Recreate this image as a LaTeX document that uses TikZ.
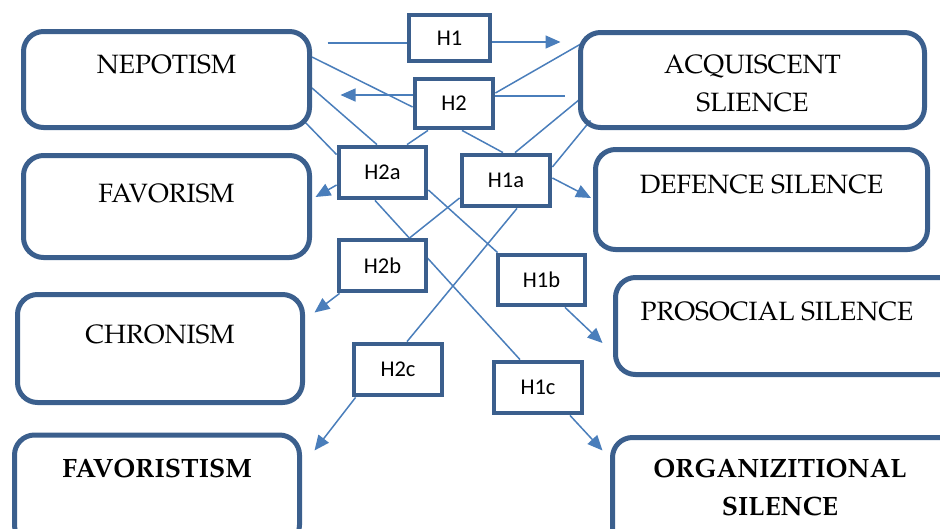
\documentclass[tikz,border=0pt]{standalone}
\usepackage[T1]{fontenc}
\usepackage{fontspec}
\newfontfamily\calibrifont{Carlito}
\newcommand\palfont{\fontencoding{T1}\fontfamily{ppl}\selectfont}
\usepackage{tikz}
\usetikzlibrary{arrows.meta,backgrounds}

\definecolor{boxblue}{HTML}{3B5F8D}
\definecolor{lineblue}{HTML}{4A7EBB}

\tikzset{
  factor/.style={draw=boxblue, line width=5pt, rounded corners=20pt, inner sep=0pt},
  factortext/.style={font=\palfont\fontsize{26.5}{38}\selectfont, align=center, inner sep=0pt, anchor=base},
  hyp/.style={draw=boxblue, line width=4.8pt, fill=white, minimum width=87pt, minimum height=51pt,
    inner sep=0pt, font=\calibrifont\fontsize{22.5}{26}\selectfont},
  link/.style={draw=lineblue, line width=1.5pt},
  arrow/.style={link, -{Triangle[length=15pt,width=13pt]}}
}

\begin{document}
\begin{tikzpicture}[x=1pt,y=-1pt]
  \useasboundingbox (0,0) rectangle (940,528);

  \node[factor, minimum width=286pt, minimum height=96pt] (nep) at (166.5,79.5) {};
  \node[factor, minimum width=344pt, minimum height=95pt] (acq) at (752.5,80) {};
  \node[factor, minimum width=286pt, minimum height=102pt] (fav) at (166.5,206.5) {};
  \node[factor, minimum width=332pt, minimum height=100pt] (def) at (761.5,199.5) {};
  \node[factor, minimum width=285pt, minimum height=108pt] (chr) at (160,348.5) {};
  \node[factor, minimum width=345pt, minimum height=97pt] (pro) at (788,326) {};
  \node[factor, minimum width=285pt, minimum height=110pt] (favt) at (157,490) {};
  \node[factor, minimum width=350pt, minimum height=110pt] (org) at (787.5,492.5) {};

  \node[factortext] (nepT) at (166.5,73) {NEPOTISM};
  \node[factortext] (acqT) at (752.5,111) {ACQUISCENT\\SLIENCE};
  \node[factortext] (favT) at (166.5,202) {FAVORISM};
  \node[factortext] (defT) at (761.5,193) {DEFENCE SILENCE};
  \node[factortext] (chrT) at (160,343) {CHRONISM};
  \node[factortext] (proT) at (777,320) {PROSOCIAL SILENCE};
  \node[factortext, font=\palfont\bfseries\fontsize{26.5}{38}\selectfont] (favtT) at (157,477) {FAVORISTISM};
  \node[factortext, font=\palfont\bfseries\fontsize{26.5}{38}\selectfont] (orgT) at (780,515) {ORGANIZITIONAL\\SILENCE};

  \node[hyp, minimum width=81pt, minimum height=46pt] (h1) at (449.5,38) {H1};
  \node[hyp, minimum width=78pt, minimum height=49pt] (h2) at (454,103.5) {H2};
  \node[hyp] (h2a) at (382.5,172.5) {H2a};
  \node[hyp, minimum width=88pt] (h1a) at (506,180.5) {H1a};
  \node[hyp] (h2b) at (382.5,265.5) {H2b};
  \node[hyp, minimum height=50pt] (h1b) at (541.5,280) {H1b};
  \node[hyp, minimum width=88pt] (h2c) at (398,369.5) {H2c};
  \node[hyp, minimum width=88pt] (h1c) at (538,387.5) {H1c};

  \begin{scope}[on background layer]
    \draw[link] ([xshift=15.5pt,yshift=36.5pt]nep.east) -- ([yshift=-5pt]h1.west);
    \draw[arrow] ([yshift=-4pt]h1.east) -- ([xshift=-17.5pt,yshift=38pt]acq.west);
    \draw[link] ([xshift=-13.5pt,yshift=-16pt]acq.west) -- ([yshift=7.5pt]h2.east);
    \draw[arrow] ([yshift=8.5pt]h2.west) -- ([xshift=28.5pt,yshift=-15.5pt]nep.east);
    \draw[link] ([yshift=22.5pt]nep.east) -- ([yshift=-3.5pt]h2.west);
    \draw[link] ([xshift=4.5pt,yshift=37pt]acq.west) -- ([yshift=10.5pt]h2.east);
    \draw[link] ([yshift=-8.5pt]nep.east) -- ([xshift=-5.5pt]h2a.north);
    \draw[link] ([xshift=-9.5pt,yshift=10.5pt]nep.south east) -- ([yshift=-10pt]h2a.north west);
    \draw[link] ([xshift=-26pt]h2.south) -- ([xshift=24.5pt]h2a.north);
    \draw[link] ([xshift=8pt]h2.south) -- ([xshift=-3pt]h1a.north);
    \draw[link] ([xshift=4.5pt,yshift=-17pt]acq.west) -- ([xshift=9pt]h1a.north);
    \draw[link] ([xshift=12.5pt,yshift=9.5pt]acq.south west) -- ([yshift=13.5pt]h1a.east);
    \draw[arrow] ([yshift=-12.5pt]h2a.west) -- ([xshift=3.5pt,yshift=9.5pt]fav.east);
    \draw[arrow] ([yshift=2.5pt]h1a.east) -- ([xshift=-2pt,yshift=1.5pt]def.west);
    \draw[link] ([xshift=-7.5pt]h2a.south) -- ([xshift=-18pt]h1c.north);
    \draw[link] ([yshift=-17.5pt]h2a.east) -- ([xshift=2pt]h1b.north west);
    \draw[link] ([yshift=-17.5pt]h1a.west) -- ([xshift=27.5pt]h2b.north);
    \draw[link] ([xshift=11pt]h1a.south) -- ([xshift=9pt]h2c.north);
    \draw[arrow] ([xshift=3pt]h2b.south west) -- ([xshift=9.5pt,yshift=-20.5pt]chr.north east);
    \draw[arrow] ([xshift=23.5pt]h1b.south) -- ([xshift=-10.5pt,yshift=-17pt]pro.west);
    \draw[arrow] ([xshift=4pt]h2c.south west) -- ([xshift=12.5pt,yshift=-18pt]favt.north east);
    \draw[arrow] ([xshift=32pt]h1c.south) -- ([xshift=-7.5pt,yshift=-15.5pt]org.north west);
  \end{scope}
\end{tikzpicture}
\end{document}
